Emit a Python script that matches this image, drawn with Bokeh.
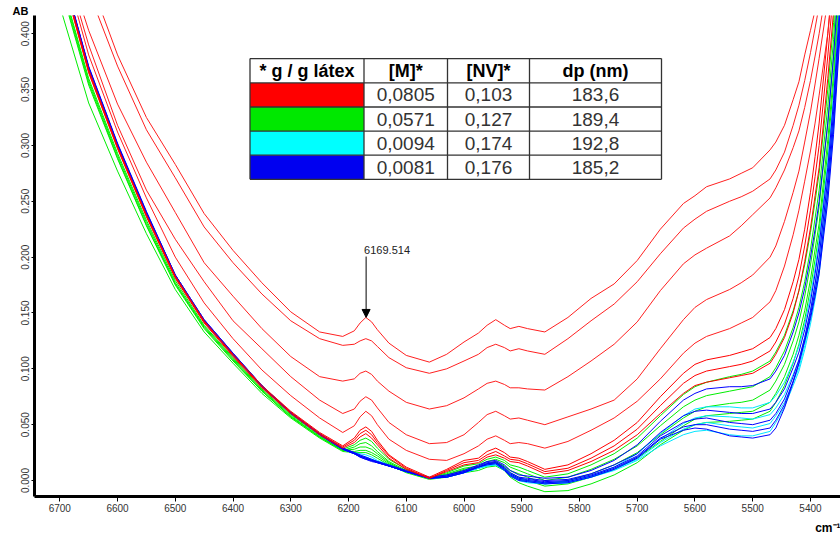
from bokeh.plotting import figure
from bokeh.models import Range1d, FixedTicker, Label, Arrow, NormalHead, Title
from bokeh.embed import file_html
from bokeh.resources import INLINE
from bokeh.core.properties import value

# ---------------- data ----------------
wavenumber = [6760, 6700, 6650, 6600, 6550, 6500, 6450, 6400, 6350, 6300,
              6250, 6210, 6190, 6180, 6170, 6160, 6150, 6130, 6100, 6060,
              6030, 6000, 5975, 5960, 5945, 5930, 5920, 5905, 5890, 5860,
              5820, 5780, 5740, 5700, 5660, 5620, 5600, 5580, 5540, 5520,
              5500, 5470, 5460, 5445, 5430, 5420, 5410, 5400, 5392, 5385,
              5370, 5360, 5345]

# upper, well separated red spectra
red_a = [0.65, 0.536, 0.451, 0.381, 0.325, 0.283, 0.239, 0.206, 0.177, 0.151,
         0.133, 0.129, 0.134, 0.141, 0.146, 0.142, 0.135, 0.123, 0.112, 0.106,
         0.113, 0.124, 0.132, 0.139, 0.144, 0.139, 0.136, 0.138, 0.136, 0.133,
         0.146, 0.163, 0.176, 0.197, 0.225, 0.248, 0.255, 0.263, 0.270, 0.275,
         0.280, 0.296, 0.303, 0.318, 0.341, 0.357, 0.381, 0.403, 0.421, 0.44,
         0.49, 0.53, 0.60]
red_b = [0.63, 0.519, 0.438, 0.371, 0.314, 0.271, 0.227, 0.195, 0.167, 0.143,
         0.127, 0.121, 0.122, 0.125, 0.127, 0.125, 0.120, 0.110, 0.101, 0.096,
         0.100, 0.107, 0.113, 0.119, 0.122, 0.119, 0.116, 0.118, 0.116, 0.113,
         0.127, 0.143, 0.158, 0.178, 0.203, 0.226, 0.234, 0.241, 0.250, 0.254,
         0.259, 0.270, 0.278, 0.294, 0.318, 0.336, 0.358, 0.383, 0.405, 0.425,
         0.47, 0.51, 0.57]
red_c = [0.61, 0.483, 0.403, 0.337, 0.285, 0.240, 0.195, 0.165, 0.136, 0.111,
         0.093, 0.089, 0.091, 0.096, 0.098, 0.095, 0.089, 0.080, 0.070, 0.064,
         0.067, 0.074, 0.082, 0.087, 0.089, 0.086, 0.083, 0.083, 0.082, 0.081,
         0.093, 0.107, 0.122, 0.142, 0.170, 0.194, 0.202, 0.208, 0.219, 0.228,
         0.238, 0.253, 0.262, 0.278, 0.298, 0.313, 0.334, 0.358, 0.38, 0.40,
         0.45, 0.49, 0.55]
red_d = [0.60, 0.478, 0.390, 0.318, 0.260, 0.216, 0.178, 0.143, 0.118, 0.093,
         0.072, 0.060, 0.064, 0.071, 0.075, 0.072, 0.065, 0.052, 0.041, 0.033,
         0.034, 0.041, 0.052, 0.059, 0.062, 0.058, 0.055, 0.056, 0.054, 0.050,
         0.057, 0.064, 0.072, 0.091, 0.118, 0.144, 0.155, 0.162, 0.171, 0.177,
         0.184, 0.200, 0.210, 0.232, 0.258, 0.277, 0.303, 0.330, 0.355, 0.378,
         0.43, 0.47, 0.54]
red_e = [0.59, 0.474, 0.381, 0.312, 0.253, 0.200, 0.159, 0.127, 0.099, 0.076,
         0.056, 0.043, 0.049, 0.057, 0.062, 0.058, 0.050, 0.037, 0.027, 0.019,
         0.018, 0.024, 0.031, 0.037, 0.040, 0.036, 0.033, 0.034, 0.033, 0.029,
         0.035, 0.045, 0.056, 0.071, 0.091, 0.114, 0.123, 0.129, 0.136, 0.141,
         0.146, 0.160, 0.170, 0.192, 0.220, 0.242, 0.268, 0.295, 0.320, 0.345,
         0.40, 0.45, 0.52]

# red spectra inside the lower bundle
red_f = [0.60, 0.462, 0.368, 0.299, 0.238, 0.183, 0.143, 0.113, 0.085, 0.062,
         0.043, 0.031, 0.038, 0.045, 0.048, 0.044, 0.036, 0.023, 0.012, 0.003,
         0.010, 0.018, 0.020, 0.026, 0.029, 0.025, 0.021, 0.020, 0.017, 0.010,
         0.014, 0.024, 0.036, 0.052, 0.075, 0.096, 0.104, 0.108, 0.112, 0.115,
         0.118, 0.128, 0.136, 0.153, 0.178, 0.198, 0.225, 0.258, 0.29, 0.32,
         0.40, 0.46, 0.57]
red_g = [0.60, 0.460, 0.366, 0.298, 0.237, 0.182, 0.142, 0.112, 0.084, 0.061,
         0.042, 0.030, 0.036, 0.042, 0.045, 0.041, 0.034, 0.022, 0.011, 0.002,
         0.009, 0.016, 0.018, 0.023, 0.026, 0.022, 0.019, 0.018, 0.015, 0.008,
         0.011, 0.020, 0.031, 0.046, 0.067, 0.087, 0.094, 0.098, 0.102, 0.104,
         0.107, 0.116, 0.124, 0.140, 0.163, 0.183, 0.210, 0.242, 0.272, 0.30,
         0.38, 0.44, 0.55]
red_h = [0.60, 0.459, 0.365, 0.297, 0.236, 0.181, 0.141, 0.111, 0.083, 0.060,
         0.041, 0.029, 0.034, 0.039, 0.042, 0.038, 0.032, 0.020, 0.010, 0.002,
         0.008, 0.014, 0.016, 0.021, 0.023, 0.020, 0.017, 0.016, 0.013, 0.006,
         0.009, 0.017, 0.027, 0.041, 0.060, 0.078, 0.085, 0.088, 0.092, 0.094,
         0.096, 0.105, 0.113, 0.128, 0.150, 0.170, 0.196, 0.226, 0.255, 0.28,
         0.36, 0.42, 0.53]

green_1 = [0.58, 0.452, 0.360, 0.293, 0.233, 0.179, 0.139, 0.110, 0.082, 0.059,
           0.040, 0.028, 0.032, 0.036, 0.038, 0.035, 0.029, 0.019, 0.010, 0.002,
           0.007, 0.013, 0.015, 0.019, 0.021, 0.018, 0.014, 0.012, 0.009, 0.003,
           0.006, 0.014, 0.024, 0.038, 0.058, 0.077, 0.084, 0.088, 0.093, 0.095,
           0.098, 0.107, 0.115, 0.130, 0.152, 0.170, 0.193, 0.222, 0.25, 0.275,
           0.35, 0.41, 0.52]
green_2 = [0.58, 0.450, 0.358, 0.291, 0.231, 0.177, 0.138, 0.109, 0.081, 0.058,
           0.039, 0.027, 0.030, 0.033, 0.034, 0.031, 0.026, 0.017, 0.009, 0.002,
           0.006, 0.011, 0.013, 0.017, 0.019, 0.016, 0.012, 0.009, 0.006, 0.000,
           0.003, 0.010, 0.019, 0.031, 0.049, 0.066, 0.072, 0.076, 0.080, 0.082,
           0.084, 0.093, 0.101, 0.116, 0.137, 0.155, 0.178, 0.207, 0.235, 0.26,
           0.335, 0.395, 0.51]
green_3 = [0.57, 0.447, 0.356, 0.289, 0.229, 0.176, 0.137, 0.108, 0.080, 0.057,
           0.039, 0.027, 0.028, 0.030, 0.030, 0.028, 0.024, 0.016, 0.008, 0.002,
           0.005, 0.010, 0.012, 0.015, 0.017, 0.013, 0.009, 0.006, 0.003, -0.003,
           0.000, 0.006, 0.014, 0.025, 0.041, 0.056, 0.062, 0.066, 0.069, 0.070,
           0.072, 0.081, 0.089, 0.104, 0.125, 0.142, 0.165, 0.193, 0.22, 0.245,
           0.32, 0.38, 0.50]
green_4 = [0.57, 0.445, 0.354, 0.288, 0.228, 0.175, 0.136, 0.107, 0.080, 0.057,
           0.039, 0.027, 0.026, 0.027, 0.027, 0.025, 0.022, 0.015, 0.008, 0.002,
           0.005, 0.009, 0.011, 0.014, 0.016, 0.012, 0.007, 0.003, 0.000, -0.005,
           -0.003, 0.003, 0.010, 0.020, 0.035, 0.049, 0.055, 0.058, 0.060, 0.061,
           0.062, 0.070, 0.078, 0.093, 0.113, 0.130, 0.152, 0.180, 0.207, 0.23,
           0.305, 0.365, 0.48]
green_5 = [0.53, 0.425, 0.338, 0.277, 0.221, 0.171, 0.133, 0.105, 0.078, 0.056,
           0.038, 0.026, 0.025, 0.025, 0.025, 0.023, 0.020, 0.014, 0.007, 0.001,
           0.003, 0.007, 0.009, 0.012, 0.013, 0.009, 0.003, -0.002, -0.005, -0.010,
           -0.009, -0.003, 0.005, 0.016, 0.032, 0.045, 0.050, 0.052, 0.053, 0.054,
           0.055, 0.062, 0.070, 0.085, 0.105, 0.122, 0.144, 0.172, 0.198, 0.222,
           0.295, 0.355, 0.47]

cyan_1 = [0.60, 0.462, 0.368, 0.299, 0.238, 0.182, 0.142, 0.112, 0.084, 0.060,
          0.041, 0.028, 0.025, 0.024, 0.023, 0.021, 0.018, 0.014, 0.008, 0.002,
          0.004, 0.008, 0.011, 0.014, 0.015, 0.011, 0.006, 0.002, 0.000, -0.002,
          -0.001, 0.004, 0.012, 0.024, 0.042, 0.058, 0.064, 0.066, 0.066, 0.065,
          0.065, 0.070, 0.076, 0.088, 0.106, 0.120, 0.140, 0.165, 0.19, 0.215,
          0.285, 0.345, 0.46]
cyan_2 = [0.60, 0.462, 0.368, 0.299, 0.238, 0.182, 0.142, 0.112, 0.084, 0.060,
          0.041, 0.028, 0.024, 0.022, 0.021, 0.019, 0.017, 0.013, 0.008, 0.002,
          0.003, 0.007, 0.011, 0.014, 0.015, 0.010, 0.005, 0.001, -0.001, -0.003,
          -0.002, 0.003, 0.010, 0.021, 0.037, 0.051, 0.056, 0.058, 0.057, 0.056,
          0.055, 0.059, 0.065, 0.077, 0.095, 0.108, 0.128, 0.152, 0.176, 0.20,
          0.27, 0.33, 0.45]
cyan_3 = [0.60, 0.463, 0.369, 0.300, 0.239, 0.183, 0.143, 0.112, 0.084, 0.060,
          0.041, 0.028, 0.024, 0.022, 0.021, 0.019, 0.017, 0.013, 0.008, 0.002,
          0.003, 0.007, 0.011, 0.013, 0.014, 0.010, 0.005, 0.001, -0.001, -0.002,
          -0.001, 0.004, 0.010, 0.019, 0.034, 0.046, 0.050, 0.052, 0.049, 0.048,
          0.047, 0.051, 0.058, 0.070, 0.088, 0.101, 0.121, 0.145, 0.168, 0.19,
          0.26, 0.32, 0.44]
cyan_4 = [0.60, 0.463, 0.369, 0.300, 0.239, 0.183, 0.143, 0.113, 0.084, 0.060,
          0.041, 0.028, 0.024, 0.022, 0.020, 0.018, 0.016, 0.013, 0.008, 0.002,
          0.003, 0.007, 0.011, 0.013, 0.014, 0.009, 0.004, 0.000, -0.002, -0.003,
          -0.002, 0.003, 0.009, 0.018, 0.031, 0.041, 0.044, 0.045, 0.041, 0.040,
          0.040, 0.044, 0.052, 0.066, 0.085, 0.098, 0.117, 0.140, 0.162, 0.185,
          0.255, 0.315, 0.44]

blue_1 = [0.60, 0.465, 0.371, 0.302, 0.241, 0.184, 0.144, 0.114, 0.085, 0.061,
          0.042, 0.029, 0.025, 0.023, 0.021, 0.019, 0.017, 0.014, 0.009, 0.003,
          0.005, 0.009, 0.014, 0.017, 0.018, 0.014, 0.009, 0.005, 0.004, 0.002,
          0.003, 0.009, 0.018, 0.032, 0.053, 0.072, 0.078, 0.082, 0.084, 0.084,
          0.085, 0.091, 0.098, 0.112, 0.133, 0.150, 0.172, 0.200, 0.225, 0.25,
          0.32, 0.38, 0.49]
blue_2 = [0.60, 0.464, 0.370, 0.301, 0.240, 0.184, 0.144, 0.114, 0.085, 0.061,
          0.042, 0.029, 0.025, 0.022, 0.020, 0.018, 0.017, 0.013, 0.008, 0.002,
          0.004, 0.008, 0.013, 0.016, 0.017, 0.012, 0.007, 0.003, 0.002, 0.000,
          0.001, 0.006, 0.014, 0.024, 0.043, 0.058, 0.062, 0.063, 0.061, 0.060,
          0.060, 0.064, 0.070, 0.082, 0.101, 0.115, 0.135, 0.160, 0.185, 0.21,
          0.28, 0.34, 0.46]
blue_3 = [0.60, 0.464, 0.370, 0.301, 0.240, 0.184, 0.143, 0.113, 0.085, 0.061,
          0.041, 0.028, 0.024, 0.022, 0.020, 0.018, 0.016, 0.013, 0.008, 0.002,
          0.004, 0.008, 0.012, 0.015, 0.016, 0.011, 0.006, 0.002, 0.001, -0.001,
          0.000, 0.005, 0.012, 0.022, 0.040, 0.052, 0.055, 0.056, 0.052, 0.051,
          0.050, 0.054, 0.060, 0.073, 0.093, 0.108, 0.128, 0.152, 0.176, 0.20,
          0.27, 0.33, 0.45]
blue_4 = [0.60, 0.463, 0.369, 0.300, 0.239, 0.183, 0.143, 0.113, 0.084, 0.060,
          0.041, 0.028, 0.024, 0.021, 0.019, 0.018, 0.016, 0.013, 0.008, 0.002,
          0.003, 0.007, 0.012, 0.015, 0.016, 0.010, 0.005, 0.001, 0.000, -0.002,
          -0.001, 0.004, 0.011, 0.021, 0.038, 0.048, 0.050, 0.050, 0.046, 0.045,
          0.044, 0.047, 0.054, 0.068, 0.089, 0.105, 0.125, 0.148, 0.170, 0.19,
          0.26, 0.32, 0.44]
blue_5 = [0.60, 0.463, 0.369, 0.300, 0.239, 0.183, 0.143, 0.113, 0.084, 0.060,
          0.041, 0.028, 0.024, 0.021, 0.019, 0.017, 0.016, 0.013, 0.008, 0.002,
          0.003, 0.007, 0.012, 0.014, 0.015, 0.009, 0.004, 0.000, -0.001, -0.003,
          -0.002, 0.003, 0.010, 0.020, 0.037, 0.045, 0.047, 0.046, 0.040, 0.039,
          0.038, 0.041, 0.047, 0.065, 0.088, 0.105, 0.125, 0.145, 0.165, 0.185,
          0.25, 0.31, 0.43]

x_ticks = [6700, 6600, 6500, 6400, 6300, 6200, 6100, 6000, 5900, 5800, 5700, 5600, 5500, 5400]
x_tick_labels = ["6700", "6600", "6500", "6400", "6300", "6200", "6100", "6000",
                 "5900", "5800", "5700", "5600", "5500", "5400"]
y_ticks = [0.0, 0.05, 0.1, 0.15, 0.2, 0.25, 0.3, 0.35, 0.4]
y_tick_labels = ["0.000", "0.050", "0.100", "0.150", "0.200", "0.250", "0.300", "0.350", "0.400"]
y_caption = "AB"
x_caption = "cm\u207b\u00b9"

table_header = ["* g / g látex", "[M]*", "[NV]*", "dp (nm)"]
table_colors = ["#ff0000", "#00e800", "#00ffff", "#0000f0"]
table_m = ["0,0805", "0,0571", "0,0094", "0,0081"]
table_nv = ["0,103", "0,127", "0,174", "0,176"]
table_dp = ["183,6", "189,4", "192,8", "185,2"]

peak_position = 6169.514
peak_label = "6169.514"
peak_value = 0.146

green_series = [green_5, green_4, green_3, green_2, green_1]
cyan_series = [cyan_1, cyan_2, cyan_3, cyan_4]
blue_series = [blue_1, blue_2, blue_3, blue_4, blue_5]
red_low_series = [red_h, red_g, red_f]
red_high_series = [red_e, red_d, red_c, red_b, red_a]
for s in green_series + cyan_series + blue_series + red_low_series + red_high_series:
    assert len(s) == len(wavenumber), len(s)

# ---------------- figure ----------------
FONT = "Liberation Sans"
p = figure(width=840, height=538,
           x_range=Range1d(6743.8, 5348), y_range=Range1d(-0.0143, 0.4163),
           output_backend="svg", toolbar_location=None,
           min_border_left=34, min_border_right=0, min_border_top=15, min_border_bottom=40)
# pixel-like helper ranges for the table decoration
p.extra_x_ranges = {"px": Range1d(34, 840)}
p.extra_y_ranges = {"py": Range1d(498, 15)}

p.outline_line_color = None
p.xgrid.grid_line_color = None
p.ygrid.grid_line_color = None
p.background_fill_color = "white"
p.border_fill_color = "white"

# "AB" caption at the top-left, as the plot title
p.title.text = y_caption
p.title.align = "left"
p.title.offset = -22
p.title.standoff = -3
p.title.text_font = FONT
p.title.text_font_size = "11px"
p.title.text_font_style = "bold"
p.title.text_color = "black"

p.xaxis.ticker = FixedTicker(ticks=x_ticks)
p.xaxis.major_label_overrides = dict(zip(x_ticks, x_tick_labels))
p.yaxis.ticker = FixedTicker(ticks=y_ticks)
p.yaxis.major_label_overrides = dict(zip(y_ticks, y_tick_labels))
for ax in (p.xaxis, p.yaxis):
    ax.axis_line_width = 3
    ax.axis_line_color = "black"
    ax.major_tick_in = 0
    ax.minor_tick_line_color = None
    ax.major_tick_line_color = "black"
    ax.major_label_text_font = FONT
    ax.major_label_text_font_size = "10px"
    ax.major_label_text_color = "#333333"
    ax.major_label_standoff = 2
p.xaxis.major_tick_out = 5
p.yaxis.major_tick_out = 3
p.yaxis.major_label_orientation = "vertical"

# "cm-1" caption at the bottom-right
p.add_layout(Title(text=x_caption, align="right", standoff=8, text_font=FONT,
                   text_font_size="12px", text_font_style="bold", text_color="black"),
             "below")

# ---------------- spectra ----------------
for ys in green_series:
    p.line(wavenumber, ys, line_color="#00ee00", line_width=1)
for ys in cyan_series:
    p.line(wavenumber, ys, line_color="#00e5ff", line_width=1)
for ys in blue_series:
    p.line(wavenumber, ys, line_color="#0000ff", line_width=1)
for ys in red_low_series:
    p.line(wavenumber, ys, line_color="#ff0000", line_width=1)
for ys in red_high_series:
    p.line(wavenumber, ys, line_color="#ff2020", line_width=1)

# ---------------- peak annotation ----------------
p.add_layout(Arrow(end=NormalHead(size=8, fill_color="black", line_color="black"),
                   x_start=peak_position, y_start=0.2005,
                   x_end=peak_position, y_end=peak_value,
                   line_color="black", line_width=1))
p.add_layout(Label(x=peak_position, y=0.2067, x_offset=-2, text=peak_label,
                   text_font=FONT, text_font_size="11px", text_color="#222222",
                   text_baseline="middle", text_align="left"))

# ---------------- table ----------------
row_edges = [58.3, 82.7, 106.9, 131.1, 155.3, 179.5]
col_edges = [249.5, 363.5, 447.0, 529.0, 661.0]
kw = dict(x_range_name="px", y_range_name="py")
p.quad(left=[col_edges[0]], right=[col_edges[-1]], top=[row_edges[0]], bottom=[row_edges[-1]],
       fill_color="white", line_color=None, **kw)
p.quad(left=[col_edges[0]] * 4, right=[col_edges[1]] * 4,
       top=row_edges[1:5], bottom=row_edges[2:6],
       fill_color=table_colors, line_color=None, **kw)
p.segment(x0=[col_edges[0]] * 6, x1=[col_edges[-1]] * 6, y0=row_edges, y1=row_edges,
          line_color="#333333", line_width=1.3, **kw)
p.segment(x0=col_edges, x1=col_edges, y0=[row_edges[0]] * 5, y1=[row_edges[-1]] * 5,
          line_color="#333333", line_width=1.3, **kw)
col_centers = [(col_edges[i] + col_edges[i + 1]) / 2 for i in range(4)]
row_centers = [(row_edges[i] + row_edges[i + 1]) / 2 for i in range(5)]
p.text(x=col_centers, y=[row_centers[0]] * 4, text=table_header,
       text_font=value(FONT), text_font_size="18px", text_font_style="bold",
       text_color="black", text_align="center", text_baseline="middle", **kw)
for ci, col in ((1, table_m), (2, table_nv), (3, table_dp)):
    p.text(x=[col_centers[ci]] * 4, y=row_centers[1:], text=col,
           text_font=value(FONT), text_font_size="19px",
           text_color="#333333", text_align="center", text_baseline="middle", **kw)

open("out.html", "w").write(file_html(p, INLINE))
